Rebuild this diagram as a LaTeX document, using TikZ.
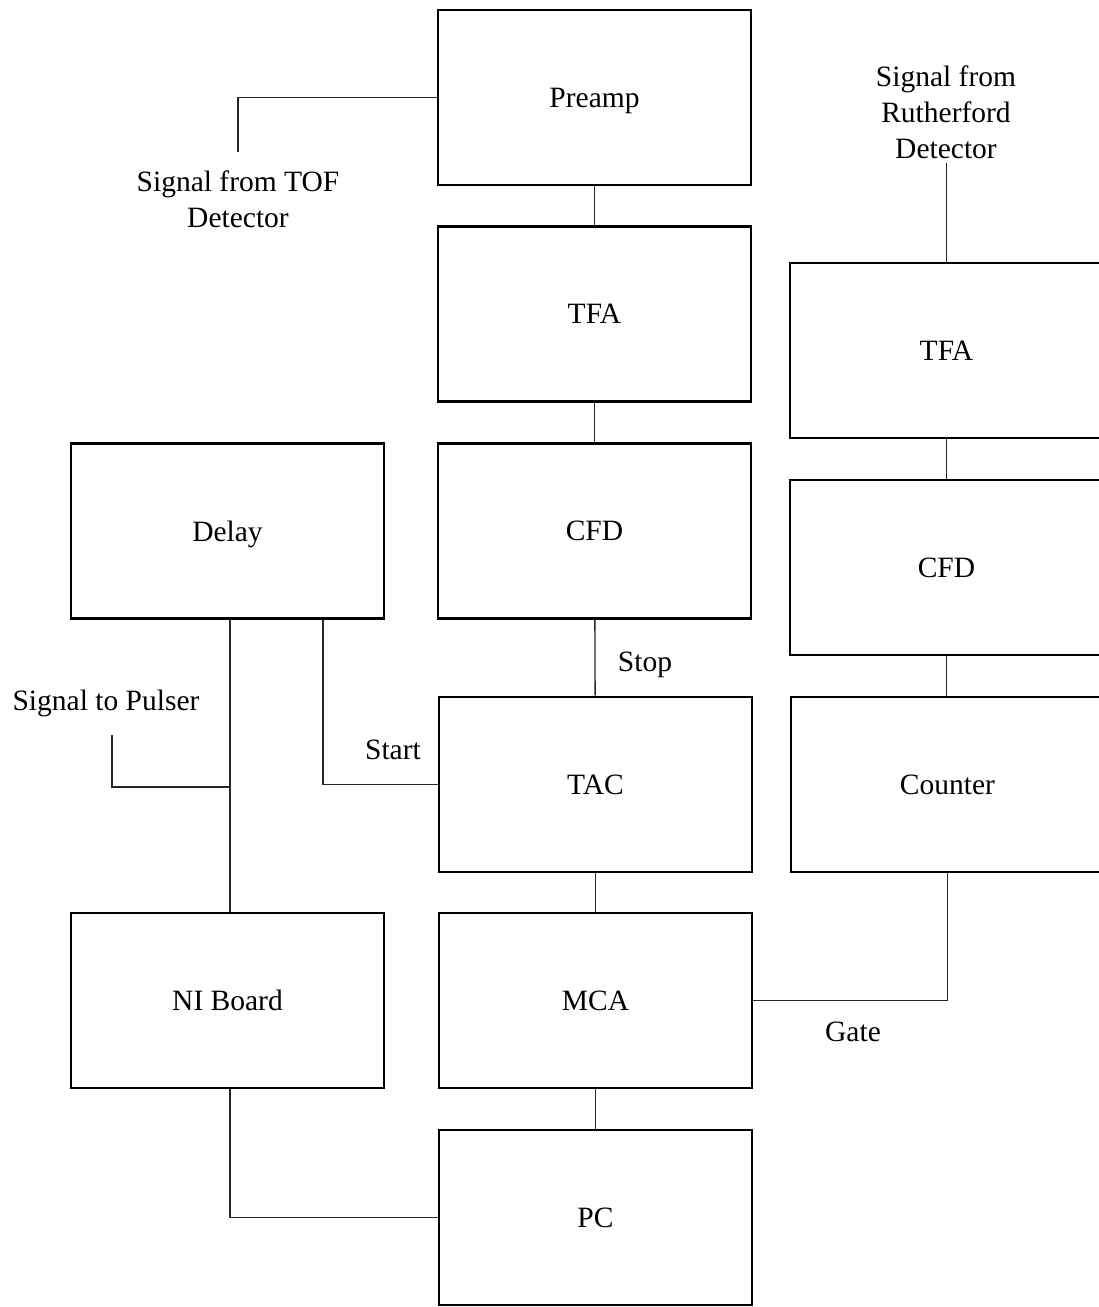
\documentclass[tikz,border=0pt]{standalone}
\usepackage{fontspec}
\setmainfont{Liberation Serif}
\begin{document}
\begin{tikzpicture}[x=1pt,y=-1pt,
  blk/.style={draw=black,line width=2.6pt,minimum width=313pt,minimum height=175pt,inner sep=0pt,text depth=0pt,font=\fontsize{29.5}{36}\selectfont},
  lbl/.style={inner sep=0pt,align=center,font=\fontsize{29.5}{36}\selectfont},
  wire/.style={draw=black!85,line width=1.3pt}]
\useasboundingbox (0,0) rectangle (1099,1307);
\clip (0,0) rectangle (1099,1307);
% middle column
\node[blk] (preamp) at (594.5,97.5) {Preamp};
\node[blk] (tfa1) at (594.5,314) {TFA};
\node[blk] (cfd1) at (594.5,531) {CFD};
\node[blk] (tac) at (595.5,784.5) {TAC};
\node[blk] (mca) at (595.5,1000.5) {MCA};
\node[blk] (pc) at (595.5,1217.5) {PC};
% left column
\node[blk] (delay) at (227.5,531) {Delay};
\node[blk] (ni) at (227.5,1000.5) {NI Board};
% right column
\node[blk] (tfa2) at (946.5,350.5) {TFA};
\node[blk] (cfd2) at (946.5,567.5) {CFD};
\node[blk] (counter) at (947.5,784.5) {Counter};
% labels
\node[lbl] (tof) at (238,199.5) {Signal from TOF\\Detector};
\node[lbl] (ruth) at (946,112) {Signal from\\Rutherford\\Detector};
\node[lbl] (pulser) at (106,703) {Signal to Pulser};
\node[lbl] (stop) at (645,665) {Stop};
\node[lbl] (start) at (393,750) {Start};
\node[lbl] (gate) at (853,1032) {Gate};
% coordinates
\coordinate (tofend) at (238,152);
\coordinate (ruthend) at (946.5,163);
\coordinate (j1) at (230,787);
\coordinate (pulsend) at (112,735);
\coordinate (st) at (323,784.5);
% connectors
\draw[wire] (preamp.west) -| (tofend);
\draw[wire] (preamp) -- (tfa1);
\draw[wire] (tfa1) -- (cfd1);
\draw[wire] (cfd1) -- (tac);
\draw[wire] (tac) -- (mca);
\draw[wire] (mca) -- (pc);
\draw[wire] (ruthend) -- (tfa2.north);
\draw[wire] (tfa2) -- (cfd2);
\draw[wire] (cfd2.south) -- (cfd2.south |- counter.north);
\draw[wire] (mca.east) -| (counter.south);
\draw[wire] (delay.south -| j1) -- (ni.north -| j1);
\draw[wire] (j1) -| (pulsend);
\draw[wire] (delay.south -| st) |- (tac.west);
\draw[wire] (ni.south -| j1) |- (pc.west);
\end{tikzpicture}
\end{document}
